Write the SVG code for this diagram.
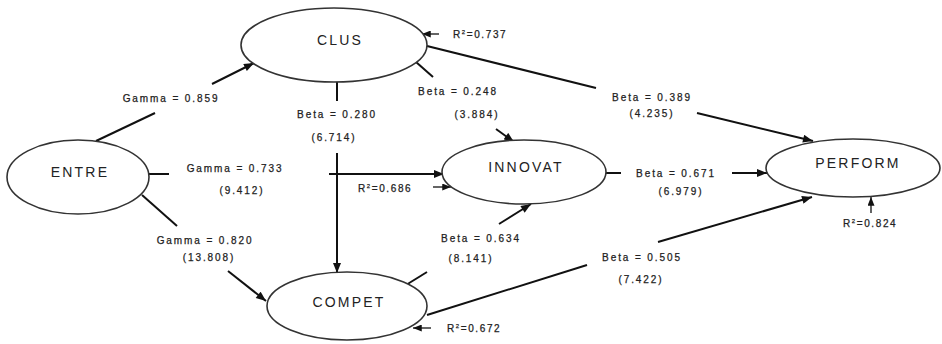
<svg xmlns="http://www.w3.org/2000/svg" width="942" height="344" viewBox="0 0 942 344">
<style>
.node ellipse{fill:#fff;stroke:#333;stroke-width:1.6}
.node text{font-family:"Liberation Sans",Arial,sans-serif;font-size:14px;letter-spacing:2.2px;fill:#222;text-anchor:middle}
.lbl{font-family:"Liberation Sans",Arial,sans-serif;font-size:10px;letter-spacing:1.9px;fill:#222;stroke:#222;stroke-width:0.25;text-anchor:middle}
.r2{font-family:"Liberation Sans",Arial,sans-serif;font-size:10px;letter-spacing:1.6px;fill:#222;stroke:#222;stroke-width:0.25}
.ln{stroke:#111;stroke-width:2;fill:none}
.ar{stroke:#111;stroke-width:2;fill:none;marker-end:url(#ah)}
.sa{stroke:#111;stroke-width:1.3;fill:none;marker-end:url(#sh)}
</style>
<defs>
<marker id="ah" viewBox="0 0 10 8" refX="10" refY="4" markerWidth="11" markerHeight="8" markerUnits="userSpaceOnUse" orient="auto"><path d="M0,0 L10,4 L0,8 z" fill="#111"/></marker>
<marker id="sh" viewBox="0 0 10 8" refX="10" refY="4" markerWidth="9" markerHeight="7" markerUnits="userSpaceOnUse" orient="auto"><path d="M0,0 L10,4 L0,8 z" fill="#111"/></marker>
</defs>
<rect width="942" height="344" fill="#fff"/>
<g id="connectors">
<line class="ln" x1="96" y1="141" x2="155" y2="113"/>
<line class="ar" x1="212" y1="84" x2="254" y2="63"/>
<line class="ln" x1="149" y1="174" x2="169" y2="174"/>
<line class="ar" x1="329" y1="174" x2="444" y2="174"/>
<line class="ln" x1="142" y1="195" x2="177" y2="226"/>
<line class="ar" x1="228" y1="271" x2="266" y2="301"/>
<line class="ln" x1="337" y1="82" x2="337" y2="101"/>
<line class="ar" x1="337" y1="153" x2="337" y2="273"/>
<line class="ln" x1="416" y1="62" x2="433" y2="77"/>
<line class="ar" x1="496" y1="129" x2="514" y2="142"/>
<line class="ln" x1="427" y1="46" x2="596" y2="88"/>
<line class="ar" x1="697" y1="113" x2="813" y2="141"/>
<line class="ln" x1="606" y1="173" x2="621" y2="173"/>
<line class="ar" x1="732" y1="173" x2="767" y2="173"/>
<line class="ln" x1="406" y1="285" x2="427" y2="272"/>
<line class="ar" x1="499" y1="224" x2="531" y2="204"/>
<line class="ln" x1="427" y1="315" x2="587" y2="265"/>
<line class="ar" x1="658" y1="242" x2="812" y2="197"/>
<line class="sa" x1="439" y1="34" x2="422" y2="34"/>
<line class="sa" x1="433" y1="187" x2="451" y2="187"/>
<line class="sa" x1="431" y1="328" x2="413" y2="328"/>
<line class="sa" x1="871" y1="213" x2="871" y2="197"/>
</g>
<g id="labels">
<text class="lbl" x="171" y="101.5">Gamma = 0.859</text>
<text class="lbl" x="235" y="171.5">Gamma = 0.733</text>
<text class="lbl" x="242" y="193.5">(9.412)</text>
<text class="lbl" x="205" y="243.5">Gamma = 0.820</text>
<text class="lbl" x="209" y="260.5">(13.808)</text>
<text class="lbl" x="337" y="117.5">Beta = 0.280</text>
<text class="lbl" x="334" y="140.5">(6.714)</text>
<text class="lbl" x="458" y="94.5">Beta = 0.248</text>
<text class="lbl" x="477" y="117.5">(3.884)</text>
<text class="lbl" x="652" y="100.5">Beta = 0.389</text>
<text class="lbl" x="652" y="116.5">(4.235)</text>
<text class="lbl" x="676" y="176.5">Beta = 0.671</text>
<text class="lbl" x="681" y="194.5">(6.979)</text>
<text class="lbl" x="481" y="241.5">Beta = 0.634</text>
<text class="lbl" x="471" y="261.5">(8.141)</text>
<text class="lbl" x="642" y="260.5">Beta = 0.505</text>
<text class="lbl" x="641" y="282.5">(7.422)</text>
<text class="r2" x="453" y="37.5">R<tspan font-size="6" dy="-4">2</tspan><tspan dy="4">=0.737</tspan></text>
<text class="r2" x="358" y="191.5">R<tspan font-size="6" dy="-4">2</tspan><tspan dy="4">=0.686</tspan></text>
<text class="r2" x="447" y="331.5">R<tspan font-size="6" dy="-4">2</tspan><tspan dy="4">=0.672</tspan></text>
<text class="r2" x="843" y="226.5">R<tspan font-size="6" dy="-4">2</tspan><tspan dy="4">=0.824</tspan></text>
</g>
<g id="CLUS" class="node"><ellipse cx="334" cy="45" rx="93" ry="37"/><text x="340" y="45">CLUS</text></g>
<g id="ENTRE" class="node"><ellipse cx="78" cy="177" rx="71" ry="37"/><text x="80" y="177">ENTRE</text></g>
<g id="INNOVAT" class="node"><ellipse cx="524" cy="172" rx="82" ry="32"/><text x="526" y="172">INNOVAT</text></g>
<g id="PERFORM" class="node"><ellipse cx="853" cy="168" rx="87" ry="29"/><text x="858" y="168">PERFORM</text></g>
<g id="COMPET" class="node"><ellipse cx="347" cy="306" rx="80" ry="34"/><text x="349" y="307">COMPET</text></g>
</svg>
